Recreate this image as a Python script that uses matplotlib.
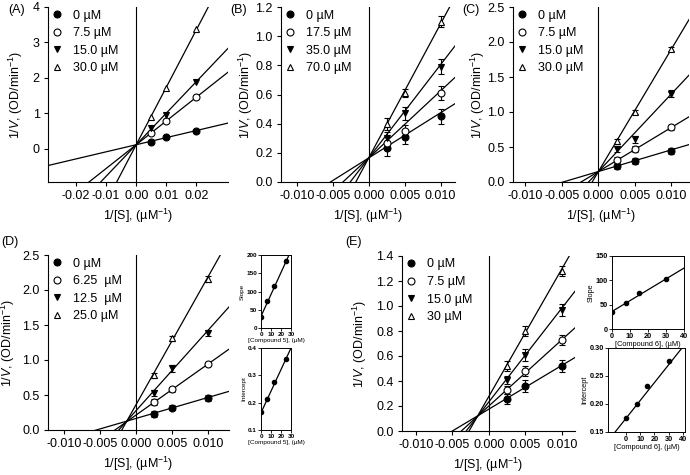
import numpy as np
import matplotlib
matplotlib.use('Agg')
import matplotlib.pyplot as plt

plt.rcParams['font.family'] = ['Liberation Sans', 'DejaVu Sans']
plt.rcParams['mathtext.fontset'] = 'custom'
plt.rcParams['mathtext.rm'] = 'Liberation Sans'
plt.rcParams['mathtext.it'] = 'Liberation Sans:italic'

###### Data ######
# 1/[S] values
a_x = [0.005, 0.01, 0.02]
bx = [0.0025, 0.005, 0.01]

# (A)
a_labels = ['0 µM', '7.5 µM', '15.0 µM', '30.0 µM']
a_y = [[0.21, 0.33, 0.52], [0.46, 0.78, 1.46], [0.60, 0.95, 1.90], [0.90, 1.73, 3.37]]
a_slope = [20, 67, 89, 162]
a_icpt = [0.12, 0.12, 0.12, 0.12]

# (B)
b_labels = ['0 µM', '17.5 µM', '35.0 µM', '70.0 µM']
b_y = [[0.23, 0.31, 0.45], [0.27, 0.35, 0.61], [0.30, 0.47, 0.79], [0.40, 0.61, 1.10]]
b_err = [[0.05, 0.05, 0.05], [0.04, 0.04, 0.045], [0.04, 0.045, 0.05], [0.04, 0.03, 0.035]]
b_slope = [31, 46, 64, 92]
b_icpt = [0.165, 0.165, 0.165, 0.165]

# (C)
c_labels = ['0 µM', '7.5 µM', '15.0 µM', '30.0 µM']
c_y = [[0.23, 0.30, 0.44], [0.32, 0.47, 0.78], [0.47, 0.61, 1.26], [0.58, 1.00, 1.90]]
c_err = [[0.04, 0.04, 0.04], [0.04, 0.04, 0.04], [0.04, 0.05, 0.05], [0.04, 0.03, 0.03]]
c_slope = [31, 63, 111, 175]
c_icpt = [0.15, 0.15, 0.15, 0.15]

# (D) compound 5
d_labels = ['0 µM', '6.25  µM', '12.5  µM', '25.0 µM']
d_conc = [0, 6.25, 12.5, 25.0]
d_y = [[0.23, 0.32, 0.46], [0.40, 0.58, 0.94], [0.53, 0.88, 1.39], [0.78, 1.31, 2.16]]
d_err = [[0.04, 0.04, 0.04], [0.04, 0.03, 0.03], [0.04, 0.05, 0.04], [0.03, 0.04, 0.04]]
d_slope = [30, 73, 115, 183]
d_icpt = [0.165, 0.213, 0.275, 0.36]
d_slope_fit = [32, 6.0]
d_icpt_fit = [0.163, 0.0079]

# (E) compound 6
e_labels = ['0 µM', '7.5 µM', '15.0 µM', '30 µM']
e_conc = [0, 7.5, 15.0, 30.0]
e_y = [[0.26, 0.36, 0.52], [0.33, 0.48, 0.73], [0.41, 0.61, 0.97], [0.52, 0.80, 1.28]]
e_err = [[0.04, 0.05, 0.05], [0.03, 0.04, 0.04], [0.03, 0.05, 0.05], [0.04, 0.04, 0.04]]
e_slope = [35, 53, 75, 102]
e_icpt = [0.175, 0.20, 0.233, 0.277]
e_slope_fit = [36, 2.23]
e_icpt_fit = [0.174, 0.0032]

markers = [('o', 'black'), ('o', 'white'), ('v', 'black'), ('^', 'white')]

W, H = 690, 475
FS = 9
fig = plt.figure(figsize=(W / 100, H / 100), dpi=100)


def px_axes(l, t, r, b):
    return fig.add_axes([l / W, 1 - b / H, (r - l) / W, (b - t) / H])


def lb_panel(ax, xs, ys, errs, slopes, icpts, labels, xlim, ylim, xticks, yticks,
             xfmt, yfmt, ylab_x):
    xx = np.array(xlim)
    for i in range(4):
        ax.plot(xx, icpts[i] + slopes[i] * xx, color='black', lw=0.9, zorder=2)
    for i in range(4):
        m, fc = markers[i]
        if errs is not None:
            ax.errorbar(xs, ys[i], yerr=errs[i], fmt='none', ecolor='black',
                        elinewidth=0.8, capsize=2, capthick=0.8, zorder=3)
        ax.plot(xs, ys[i], linestyle='none', marker=m, markersize=5,
                markerfacecolor=fc, markeredgecolor='black', markeredgewidth=0.8,
                label=labels[i], zorder=4)
    ax.axvline(0, color='black', lw=0.8, zorder=1)
    ax.set_xlim(xlim)
    ax.set_ylim(ylim)
    ax.set_xticks(xticks)
    ax.set_yticks(yticks)
    ax.set_xticklabels([xfmt.format(v) for v in xticks])
    ax.set_yticklabels([yfmt.format(v) for v in yticks])
    ax.spines['top'].set_visible(False)
    ax.spines['right'].set_visible(False)
    ax.tick_params(direction='out', length=3, width=0.8, labelsize=FS, pad=3)
    ax.set_xlabel('1/[S], (µM$^{-1}$)', fontsize=FS)
    ax.set_ylabel('1/$V$, (OD/min$^{-1}$)', fontsize=FS)
    ax.yaxis.set_label_coords(ylab_x, 0.5)
    ax.xaxis.set_label_coords(0.5, -0.14)
    ax.legend(loc='upper left', frameon=False, fontsize=FS, handletextpad=0.8,
              labelspacing=0.45, borderaxespad=0.1, borderpad=0.1, handlelength=1.0)


bt = [-0.010, -0.005, 0.0, 0.005, 0.010]

axA = px_axes(48, 7, 228, 182)
lb_panel(axA, a_x, a_y, None, a_slope, a_icpt, a_labels, (-0.0293, 0.0305), (-0.93, 4),
         [-0.02, -0.01, 0.0, 0.01, 0.02], [0, 1, 2, 3, 4], '{:.2f}', '{:d}', -0.13)

axB = px_axes(281, 7, 455, 182)
lb_panel(axB, bx, b_y, b_err, b_slope, b_icpt, b_labels, (-0.0122, 0.0120), (0, 1.2),
         bt, [0, 0.2, 0.4, 0.6, 0.8, 1.0, 1.2], '{:.3f}', '{:.1f}', -0.15)

axC = px_axes(513, 7, 689, 182)
lb_panel(axC, bx, c_y, c_err, c_slope, c_icpt, c_labels, (-0.0117, 0.0124), (0, 2.5),
         bt, [0, 0.5, 1.0, 1.5, 2.0, 2.5], '{:.3f}', '{:.1f}', -0.145)

axD = px_axes(48, 255, 229, 430)
lb_panel(axD, bx, d_y, d_err, d_slope, d_icpt, d_labels, (-0.0122, 0.0129), (0, 2.5),
         bt, [0, 0.5, 1.0, 1.5, 2.0, 2.5], '{:.3f}', '{:.1f}', -0.17)

axE = px_axes(402, 256, 575, 431)
lb_panel(axE, bx, e_y, e_err, e_slope, e_icpt, e_labels, (-0.0119, 0.0118), (0, 1.4),
         bt, [0, 0.2, 0.4, 0.6, 0.8, 1.0, 1.2, 1.4], '{:.3f}', '{:.1f}', -0.19)


def inset(ax, xs, ys, fit, xlim, ylim, xticks, yticks, yfmt, ylab, xlab, fs):
    xx = np.array(xlim)
    ax.plot(xx, fit[0] + fit[1] * xx, color='black', lw=0.9)
    ax.plot(xs, ys, linestyle='none', marker='o', markersize=3,
            markerfacecolor='black', markeredgecolor='black')
    ax.set_xlim(xlim)
    ax.set_ylim(ylim)
    ax.set_xticks(xticks)
    ax.set_yticks(yticks)
    ax.set_yticklabels([yfmt.format(v) for v in yticks])
    ax.tick_params(direction='out', length=2, width=0.6, labelsize=fs, pad=1)
    for lab in ax.get_xticklabels() + ax.get_yticklabels():
        lab.set_fontweight('bold')
    for sp in ax.spines.values():
        sp.set_linewidth(0.7)
    ax.set_ylabel(ylab, fontsize=fs, labelpad=1)
    ax.set_xlabel(xlab, fontsize=fs, labelpad=0.5)


axD1 = px_axes(261, 255, 291, 328)
inset(axD1, d_conc, d_slope, d_slope_fit, (0, 30), (0, 200), [0, 10, 20, 30],
      [0, 50, 100, 150, 200], '{:d}', 'Slope', '[Compound 5], (µM)', 4.6)
axD2 = px_axes(261, 348, 291, 430)
inset(axD2, d_conc, d_icpt, d_icpt_fit, (0, 30), (0.1, 0.4), [0, 10, 20, 30],
      [0.1, 0.2, 0.3, 0.4], '{:.1f}', 'Intercept', '[Compound 5], (µM)', 4.6)

axE1 = px_axes(612, 256, 684, 329)
inset(axE1, e_conc, e_slope, e_slope_fit, (0, 40), (0, 150), [0, 10, 20, 30, 40],
      [0, 50, 100, 150], '{:d}', 'Slope', '[Compound 6], (µM)', 5.3)
axE2 = px_axes(608, 348, 685, 432)
inset(axE2, e_conc, e_icpt, e_icpt_fit, (-12.5, 41.5), (0.15, 0.30), [0, 10, 20, 30, 40],
      [0.15, 0.20, 0.25, 0.30], '{:.2f}', 'Intercept', '[Compound 6], (µM)', 5.3)

# panel letters
for txt, x, y in [('(A)', 8, 10), ('(B)', 230, 10), ('(C)', 462, 10),
                  ('(D)', 1, 242), ('(E)', 345, 242)]:
    fig.text(x / W, 1 - y / H, txt, fontsize=FS, va='center', ha='left')

fig.savefig('out.png', dpi=100)
